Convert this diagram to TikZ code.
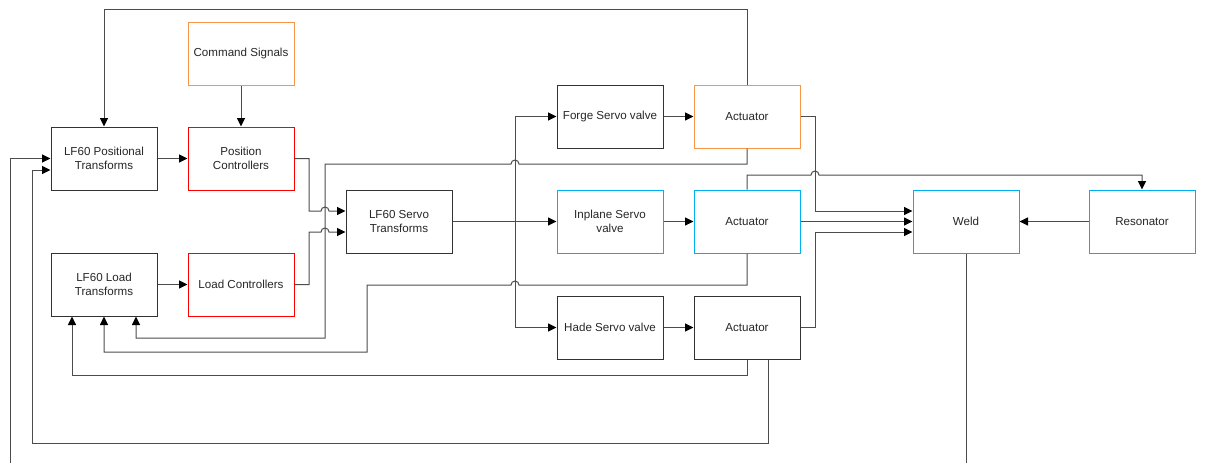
\documentclass[tikz,border=0pt]{standalone}
\usepackage{fontspec}
\setmainfont{Liberation Sans}
\usetikzlibrary{arrows.meta}

\definecolor{boxorange}{RGB}{247,150,70}
\definecolor{boxred}{RGB}{255,0,0}
\definecolor{boxcyan}{RGB}{0,176,240}

\tikzset{
  blk/.style={draw=black!80, line width=1pt, minimum width=106pt,
    minimum height=63pt, inner sep=2pt, align=center, text=black!85,
    font=\fontsize{11.6}{14.5}\selectfont},
  arr/.style={line width=1pt, draw=black!70,
    -{Triangle[length=8.5pt,width=8pt,color=black]}},
  ln/.style={line width=1pt, draw=black!70}
}

\begin{document}
\begin{tikzpicture}
  \useasboundingbox (0pt,0pt) rectangle (1208pt,-463pt);

  %% blocks
  \node[blk, draw=boxorange] (cmd) at (241pt,-54pt) {Command Signals};
  \node[blk] (lfpos) at (104pt,-158.5pt) {LF60 Positional\\Transforms};
  \node[blk, draw=boxred] (posctl) at (241pt,-158.5pt) {Position\\Controllers};
  \node[blk] (lfload) at (104pt,-284.5pt) {LF60 Load\\Transforms};
  \node[blk, draw=boxred] (loadctl) at (241pt,-284.5pt) {Load Controllers};
  \node[blk] (servo) at (399pt,-221.5pt) {LF60 Servo\\Transforms};

  \node[blk] (forgesv) at (610pt,-116.5pt) {Forge Servo valve};
  \node[blk, draw=boxorange] (forgeact) at (747pt,-116.5pt) {Actuator};
  \node[blk, draw=boxcyan] (inplsv) at (610pt,-221.5pt) {Inplane Servo\\valve};
  \node[blk, draw=boxcyan] (inplact) at (747pt,-221.5pt) {Actuator};
  \node[blk] (hadesv) at (610pt,-327.5pt) {Hade Servo valve};
  \node[blk] (hadeact) at (747pt,-327.5pt) {Actuator};

  \node[blk, draw=boxcyan] (weld) at (966pt,-221.5pt) {Weld};
  \node[blk, draw=boxcyan] (reso) at (1142pt,-221.5pt) {Resonator};

  \coordinate (split) at (515pt,-221.5pt);
  \coordinate (posfree) at (10pt,-463pt);
  \coordinate (weldfree) at (966pt,-463pt);

  %% forward path
  \draw[arr] (cmd) -- (posctl);
  \draw[arr] (lfpos) -- (posctl);
  \draw[arr] (lfload) -- (loadctl);
  \draw[arr] (posctl.east) -| (309pt,-211pt) -- (321pt,-211pt)
    arc[start angle=180,end angle=0,radius=4pt] -- ([yshift=10.5pt]servo.west);
  \draw[arr] (loadctl.east) -| (309pt,-232pt) -- (321pt,-232pt)
    arc[start angle=180,end angle=0,radius=4pt] -- ([yshift=-10.5pt]servo.west);
  \draw[arr] (servo) -- (inplsv);
  \draw[arr] (split) |- (forgesv);
  \draw[arr] (split) |- (hadesv);
  \draw[arr] (forgesv) -- (forgeact);
  \draw[arr] (inplsv) -- (inplact);
  \draw[arr] (hadesv) -- (hadeact);

  \draw[arr] (forgeact.east) -| (815pt,-211pt) -- ([yshift=10.5pt]weld.west);
  \draw[arr] (inplact) -- (weld);
  \draw[arr] (hadeact.east) -| (815pt,-232pt) -- ([yshift=-10.5pt]weld.west);
  \draw[arr] (reso) -- (weld);
  \draw[arr] (inplact.north) |- (811pt,-175pt)
    arc[start angle=180,end angle=0,radius=4pt] -| (reso.north);

  %% feedback
  \draw[arr] (forgeact.north) |- (104pt,-9pt) -- (lfpos.north);
  \draw[arr] (forgeact.south) |- (519pt,-164pt)
    arc[start angle=0,end angle=180,radius=4pt] -| (325pt,-338pt)
    -| ([xshift=32pt]lfload.south);
  \draw[arr] (inplact.south) |- (519pt,-285pt)
    arc[start angle=0,end angle=180,radius=4pt] -| (367pt,-352pt)
    -| (lfload.south);
  \draw[arr] (hadeact.south) |- (72pt,-375pt) -- ([xshift=-32pt]lfload.south);
  \draw[arr] ([xshift=21pt]hadeact.south) |- (32pt,-443pt)
    |- ([yshift=-11.5pt]lfpos.west);
  \draw[arr] (posfree) |- (lfpos.west);
  \draw[ln] (weld.south) -- (weldfree);

\end{tikzpicture}
\end{document}
